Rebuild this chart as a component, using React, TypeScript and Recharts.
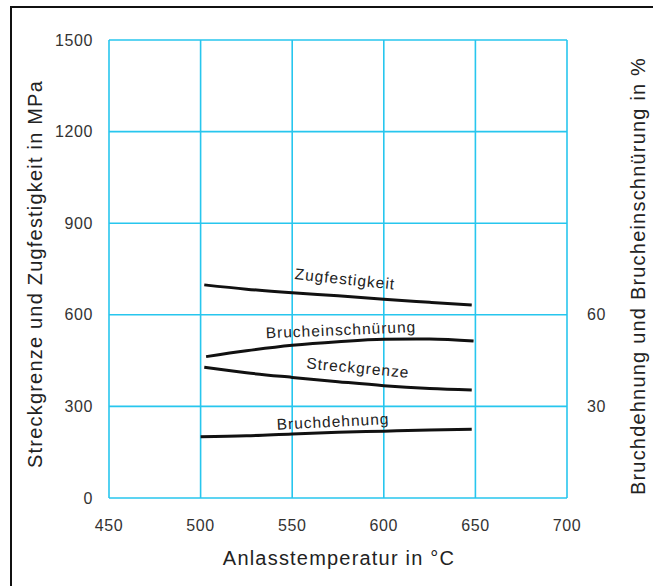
import React from 'react';
import { LineChart, Line, XAxis, YAxis, CartesianGrid } from 'recharts';

const FONT = '"Liberation Sans", Arial, Helvetica, sans-serif';

// Anlasstemperatur in °C
const xTicks = [450, 500, 550, 600, 650, 700];
const leftTicks = [0, 300, 600, 900, 1200, 1500];
const rightTicks = [30, 60];

// Zugfestigkeit (MPa)
const zugTemps = [502, 525, 550, 575, 600, 625, 648];
const zugValues = [698, 684, 672, 662, 651, 641, 632];

// Streckgrenze (MPa)
const streckTemps = [502, 525, 550, 575, 600, 625, 648];
const streckValues = [428, 410, 395, 381, 368, 359, 354];

// Brucheinschnürung (%)
const einschTemps = [503, 525, 550, 575, 600, 625, 649];
const einschValues = [46.3, 48.2, 50.0, 51.2, 52.0, 52.1, 51.4];

// Bruchdehnung (%)
const dehnTemps = [500, 525, 550, 575, 600, 625, 648];
const dehnValues = [20.1, 20.4, 21.0, 21.5, 21.9, 22.3, 22.5];

const toRows = (t: number[], v: number[]) => t.map((x, i) => ({ t: x, v: v[i] }));
const zugData = toRows(zugTemps, zugValues);
const streckData = toRows(streckTemps, streckValues);
const einschData = toRows(einschTemps, einschValues);
const dehnData = toRows(dehnTemps, dehnValues);

const GRID = '#27c6ee';

const makeLabel = (text: string, idx: number, dx: number, dy: number, angle: number) => (props: any) => {
  const { x, y, index } = props;
  if (index !== idx || x == null || y == null) return null;
  const cx = x + dx;
  const cy = y + dy;
  return (
    <text
      key={text}
      x={cx}
      y={cy}
      textAnchor="middle"
      dominantBaseline="central"
      transform={`rotate(${angle} ${cx} ${cy})`}
      fontSize={15.5}
      letterSpacing={1}
      fill="#222"
      fontFamily={FONT}
    >
      {text}
    </text>
  );
};

const tickStyle = { fontSize: 16, fill: '#333', fontFamily: FONT, letterSpacing: 0.6 };

const titleStyle: React.CSSProperties = {
  position: 'absolute',
  whiteSpace: 'nowrap',
  fontSize: 20,
  letterSpacing: 1.2,
  color: '#222',
};

export default function App() {
  return (
    <div style={{ position: 'absolute', left: 0, top: 0, width: 653, height: 586, overflow: 'hidden', background: '#fff', fontFamily: FONT }}>
      <div style={{ position: 'absolute', left: 10, top: 6, width: 800, height: 800, borderLeft: '2px solid #111', borderTop: '2px solid #111' }} />
      <LineChart width={653} height={586} margin={{ top: 40, right: 0, bottom: 0, left: 0 }}>
        <CartesianGrid yAxisId="left" stroke={GRID} strokeWidth={1.6} />
        <XAxis
          dataKey="t"
          type="number"
          domain={[450, 700]}
          ticks={xTicks}
          height={88}
          axisLine={false}
          tickLine={false}
          tickSize={0}
          tickMargin={22}
          tick={tickStyle}
          allowDuplicatedCategory={false}
        />
        <YAxis
          yAxisId="left"
          domain={[0, 1500]}
          ticks={leftTicks}
          width={109}
          axisLine={false}
          tickLine={false}
          tickSize={0}
          tickMargin={16}
          tick={tickStyle}
        />
        <YAxis
          yAxisId="right"
          orientation="right"
          domain={[0, 150]}
          ticks={rightTicks}
          width={86}
          axisLine={false}
          tickLine={false}
          tickSize={0}
          tickMargin={20}
          tick={tickStyle}
        />
        <Line data={zugData} yAxisId="left" dataKey="v" type="monotone" stroke="#111" strokeWidth={3} dot={false} isAnimationActive={false} label={makeLabel('Zugfestigkeit', 3, 7, -17, 6)} />
        <Line data={streckData} yAxisId="left" dataKey="v" type="monotone" stroke="#111" strokeWidth={3} dot={false} isAnimationActive={false} label={makeLabel('Streckgrenze', 3, 20, -14, 5.3)} />
        <Line data={einschData} yAxisId="right" dataKey="v" type="monotone" stroke="#111" strokeWidth={3} dot={false} isAnimationActive={false} label={makeLabel('Brucheinschnürung', 3, 3, -12, -2.4)} />
        <Line data={dehnData} yAxisId="right" dataKey="v" type="monotone" stroke="#111" strokeWidth={3} dot={false} isAnimationActive={false} label={makeLabel('Bruchdehnung', 3, -5, -11, -3)} />
      </LineChart>
      <div style={{ ...titleStyle, left: 35, top: 274, transform: 'translate(-50%, -50%) rotate(-90deg)' }}>
        Streckgrenze und Zugfestigkeit in MPa
      </div>
      <div style={{ ...titleStyle, left: 638, top: 276, transform: 'translate(-50%, -50%) rotate(-90deg)' }}>
        Bruchdehnung und Brucheinschnürung in %
      </div>
      <div style={{ ...titleStyle, left: 339, top: 558, transform: 'translate(-50%, -50%)' }}>
        Anlasstemperatur in °C
      </div>
    </div>
  );
}
